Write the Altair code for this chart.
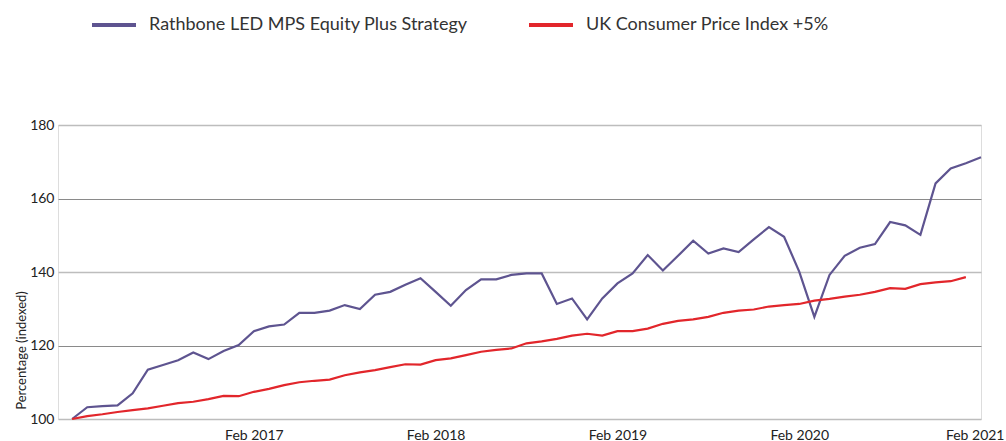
import altair as alt
import pandas as pd

# Monthly index values, Feb 2016 (index 0) .. Feb 2021 (index 60)
strategy = [100.0, 103.2, 103.5, 103.7, 107.0, 113.4, 114.7, 116.0, 118.1, 116.3,
            118.5, 120.1, 123.9, 125.2, 125.7, 128.9, 128.9, 129.5, 131.0, 129.9,
            133.8, 134.6, 136.5, 138.3, 134.6, 130.8, 135.1, 138.0, 138.0, 139.2,
            139.6, 139.6, 131.3, 132.8, 127.1, 132.8, 136.9, 139.6, 144.6, 140.4,
            144.4, 148.5, 145.0, 146.4, 145.4, 148.9, 152.2, 149.6, 140.1, 127.8,
            139.2, 144.4, 146.6, 147.6, 153.6, 152.7, 150.1, 164.1, 168.2, 169.6,
            171.2]
cpi = [100.0, 100.8, 101.3, 101.9, 102.4, 102.9, 103.6, 104.3, 104.7, 105.4,
       106.3, 106.2, 107.4, 108.2, 109.2, 110.0, 110.4, 110.7, 111.9, 112.7,
       113.3, 114.1, 114.9, 114.8, 116.0, 116.5, 117.4, 118.3, 118.8, 119.2,
       120.6, 121.1, 121.8, 122.7, 123.2, 122.7, 123.9, 123.9, 124.6, 125.9,
       126.7, 127.1, 127.8, 128.9, 129.5, 129.8, 130.6, 131.0, 131.3, 132.2,
       132.7, 133.3, 133.8, 134.6, 135.6, 135.4, 136.7, 137.2, 137.5, 138.6]

series_names = ["Rathbone LED MPS Equity Plus Strategy", "UK Consumer Price Index +5%"]
series_colors = ["#5e5490", "#e2262b"]
x_tick_values = [12, 24, 36, 48, 60]
x_tick_labels = ["Feb 2017", "Feb 2018", "Feb 2019", "Feb 2020", "Feb 2021"]
y_ticks = [100, 120, 140, 160, 180]

rows = []
for i, v in enumerate(strategy):
    rows.append({"m": i, "value": v, "series": series_names[0]})
for i, v in enumerate(cpi):
    rows.append({"m": i, "value": v, "series": series_names[1]})
df = pd.DataFrame(rows)

label_arr = "[" + ",".join("'" + s + "'" for s in x_tick_labels) + "]"
label_expr = label_arr + "[round(datum.value/12) - 1]"

axis_font = "Liberation Sans Narrow, Lato, sans-serif"

chart = alt.Chart(df).mark_line(strokeWidth=2.2).encode(
    x=alt.X("m:Q",
            scale=alt.Scale(domain=[-0.93, 60], nice=False, zero=False),
            axis=alt.Axis(values=x_tick_values, labelExpr=label_expr, grid=False,
                          domain=False, ticks=False, labelFont=axis_font,
                          labelFontSize=14, labelColor="#222", labelPadding=9,
                          labelAlign={"condition": {"test": "datum.value == 60", "value": "right"}, "value": "center"},
                          labelOffset={"condition": {"test": "datum.value == 60", "value": 23}, "value": 0},
                          labelFlush=False, title=None)),
    y=alt.Y("value:Q",
            scale=alt.Scale(domain=[100, 180], nice=False, zero=False),
            axis=alt.Axis(values=y_ticks, grid=True,
                          gridColor={"condition": {"test": "datum.value % 40 == 20", "value": "#bdbdbd"}, "value": "#8a8a8a"},
                          gridWidth={"condition": {"test": "datum.value % 40 == 20", "value": 1.6}, "value": 1},
                          domain=False, ticks=False, labelFont=axis_font,
                          labelFontSize=14, labelColor="#222", labelPadding=4,
                          title="Percentage (indexed)", titleFont=axis_font,
                          titleFontSize=13, titleFontWeight="normal", titleColor="#222",
                          titleAngle=-90, titleX=-33, titleY=225, titleAlign="center",
                          titleBaseline="alphabetic")),
    color=alt.Color("series:N",
                    scale=alt.Scale(domain=series_names, range=series_colors),
                    legend=alt.Legend(orient="none", legendX=32, legendY=-124,
                                      direction="horizontal", title=None,
                                      symbolType="stroke", symbolSize=1936,
                                      symbolStrokeWidth=4, labelFontSize=18,
                                      labelFont="Lato", labelColor="#333",
                                      labelOffset=11, columnPadding=53,
                                      labelLimit=600)),
).properties(
    width=923, height=294,
    autosize=alt.AutoSizeParams(type="none"),
    padding={"left": 58, "top": 125, "right": 25, "bottom": 22},
).configure_view(stroke=None).configure(background="white")

chart.save("out.html", embed_options={"renderer": "svg", "actions": False})
